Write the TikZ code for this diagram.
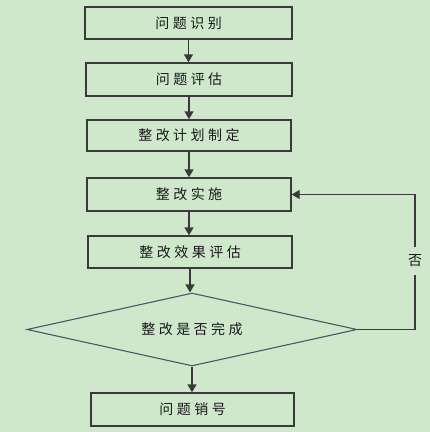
\documentclass[tikz,border=0pt]{standalone}
\usepackage{fontspec}
\newfontfamily\cjk[LetterSpace=25]{Noto Sans CJK SC}
\usetikzlibrary{shapes.geometric,arrows.meta}
\definecolor{bg}{RGB}{207,232,204}
\definecolor{boxline}{RGB}{58,58,58}
\definecolor{diamline}{RGB}{74,88,100}
\definecolor{txt}{RGB}{25,25,25}
\tikzset{
  stepbox/.style={draw=boxline,line width=1.4pt,rectangle,inner sep=0pt,font=\cjk\fontsize{14}{14}\selectfont,text=txt},
  decbox/.style={draw=diamline,line width=1.1pt,diamond,aspect=4.5,inner sep=0pt,font=\cjk\fontsize{14}{14}\selectfont,text=txt},
  flow/.style={draw=boxline,line width=1.4pt,-{Triangle[width=9pt,length=8pt]}},
  lbl/.style={fill=bg,inner xsep=2pt,inner ysep=8pt,font=\cjk\fontsize{14}{14}\selectfont,text=txt}
}
\begin{document}
\begin{tikzpicture}[x=1pt,y=-1pt]
\fill[bg] (0,0) rectangle (430,432);
\useasboundingbox (0,0) rectangle (430,432);
\node[stepbox,minimum width=207pt,minimum height=32pt] (b1) at (188.5,23) {问题识别};
\node[stepbox,minimum width=206pt,minimum height=33pt] (b2) at (189,79.5) {问题评估};
\node[stepbox,minimum width=204pt,minimum height=31pt] (b3) at (189,135.5) {整改计划制定};
\node[stepbox,minimum width=204pt,minimum height=33pt] (b4) at (189,194.5) {整改实施};
\node[stepbox,minimum width=204pt,minimum height=32pt] (b5) at (190,252) {整改效果评估};
\node[decbox,minimum width=330pt,minimum height=73pt] (d) at (192,329.5) {整改是否完成};
\node[stepbox,minimum width=203pt,minimum height=33pt] (b6) at (192.5,409.5) {问题销号};
\draw[flow] (b1.south) -- (b1.south |- b2.north);
\draw[flow] (b2.south) -- (b2.south |- b3.north);
\draw[flow] (b3.south) -- (b3.south |- b4.north);
\draw[flow] (b4.south) -- (b4.south |- b5.north);
\draw[flow] (b5.south) -- (b5.south |- d.north);
\draw[flow] (d.south) -- (d.south |- b6.north);
\coordinate (c1) at (415,329.5);
\coordinate (c2) at (415,194.5);
\draw[flow] (d.east) -- (c1) -- (c2) -- (b4.east);
\node[lbl] (no) at (415,261) {否};
\end{tikzpicture}
\end{document}
